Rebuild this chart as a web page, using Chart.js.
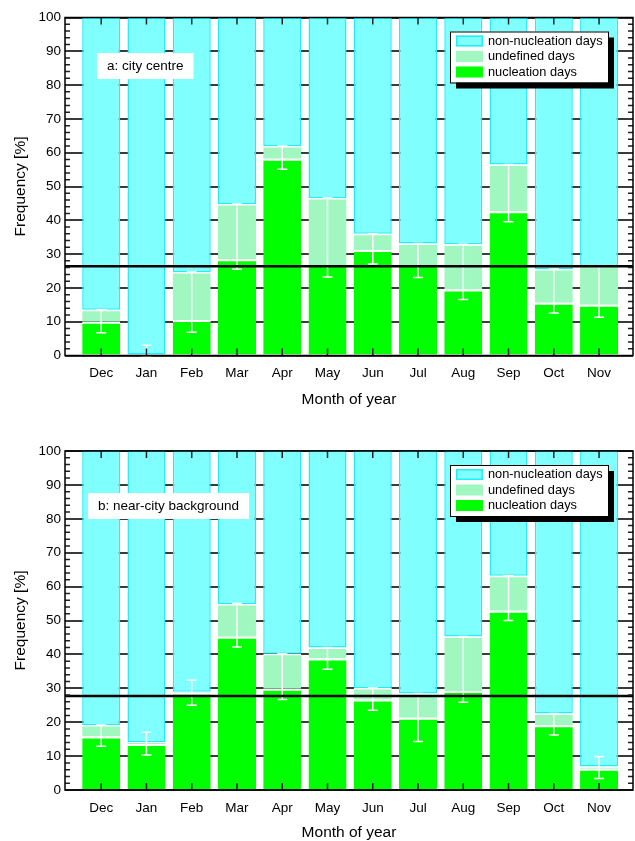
<!DOCTYPE html>
<html>
<head>
<meta charset="utf-8">
<script src="https://cdn.jsdelivr.net/npm/chart.js@4/dist/chart.umd.min.js"></script>
<style>
  html, body { margin: 0; padding: 0; background: #fff; overflow: hidden; }
  .wrap { position: absolute; left: 0; width: 635px; }
  #boxA { top: 0; height: 410px; }
  #boxB { top: 433px; height: 410px; }
</style>
</head>
<body>
<div class="wrap" id="boxA"><canvas id="chartA" width="635" height="410"></canvas></div>
<div class="wrap" id="boxB"><canvas id="chartB" width="635" height="410"></canvas></div>
<script>
const months = ['Dec', 'Jan', 'Feb', 'Mar', 'Apr', 'May', 'Jun', 'Jul', 'Aug', 'Sep', 'Oct', 'Nov'];
const yTicks = [0, 10, 20, 30, 40, 50, 60, 70, 80, 90, 100];

// a: city centre
const nucA = [10, 0, 10.5, 28.5, 58.2, 26.8, 31.2, 26.8, 19.5, 42.7, 15.6, 15.0];
const undA = [3.5, 0, 14.2, 16.3, 3.8, 19.8, 4.8, 6.3, 13.4, 13.8, 10, 11.5];
const nonA = [86.5, 100, 75.3, 55.2, 38, 53.4, 64, 66.9, 67.1, 43.5, 74.4, 73.5];
const errLowA = [6.7, 0, 6.9, 25.5, 55.1, 23.2, 27.1, 23.1, 16.6, 39.6, 12.6, 11.3];
const errHighA = [13.5, 3, 24.7, 44.8, 62, 46.6, 36, 33.1, 32.9, 56.5, 25.6, 26.5];
const meanA = 26.4;

// b: near-city background
const nucB = [15.8, 13.6, 28.7, 45.2, 29.9, 38.8, 26.7, 21.3, 29.2, 52.9, 19.1, 6.3];
const undB = [3.4, 0.5, 0.3, 9.7, 10.3, 3.2, 3.4, 7.2, 16.1, 10.3, 3.5, 0.6];
const nonB = [80.8, 85.9, 71, 45.1, 59.8, 58, 69.9, 71.5, 54.7, 36.8, 77.4, 93.1];
const errLowB = [12.9, 10.3, 25, 42.2, 26.7, 35.6, 23.5, 14.3, 25.9, 50, 16.2, 3.4];
const errHighB = [19.2, 17, 32.4, 55, 40.2, 42, 30.1, 28.5, 45.3, 63.2, 22.6, 9.9];
const meanB = 27.7;

const CYAN = '#80ffff';
const CYAN_EDGE = '#20eef8';
const LIGHT = '#a0f8c0';
const GREEN = '#00ff00';

Chart.defaults.font.family = '"Liberation Sans", Arial, sans-serif';
Chart.defaults.color = '#000';

const pts = arr => arr.map((v, i) => ({ x: i + 1, y: v }));

const overlay = {
  id: 'overlay',
  afterDatasetsDraw(chart) {
    const o = chart.options.plugins.overlay;
    const { ctx, chartArea: a, scales: { x, y } } = chart;
    ctx.save();
    // error bars
    ctx.strokeStyle = '#fff';
    ctx.lineWidth = 1.5;
    o.errLow.forEach((lo, i) => {
      const px = x.getPixelForValue(i + 1);
      const y1 = y.getPixelForValue(lo), y2 = y.getPixelForValue(o.errHigh[i]);
      ctx.beginPath();
      ctx.moveTo(px, y1); ctx.lineTo(px, y2);
      ctx.moveTo(px - 5, y1); ctx.lineTo(px + 5, y1);
      ctx.moveTo(px - 5, y2); ctx.lineTo(px + 5, y2);
      ctx.stroke();
    });
    // mean line
    const ym = y.getPixelForValue(o.mean);
    ctx.strokeStyle = '#000';
    ctx.lineWidth = 2.5;
    ctx.beginPath(); ctx.moveTo(a.left, ym); ctx.lineTo(a.right, ym); ctx.stroke();
    ctx.restore();
  },
  afterDraw(chart) {
    const o = chart.options.plugins.overlay;
    const { ctx, chartArea: a, scales: { x, y } } = chart;
    ctx.save();
    // ticks
    ctx.strokeStyle = '#222';
    ctx.lineWidth = 1.5;
    ctx.beginPath();
    for (let v = 2; v < 100; v += 2) {
      if (v % 10 === 0) continue;
      const py = y.getPixelForValue(v);
      ctx.moveTo(a.left, py); ctx.lineTo(a.left + 5, py);
      ctx.moveTo(a.right, py); ctx.lineTo(a.right - 5, py);
    }
    months.forEach((m, i) => {
      const px = x.getPixelForValue(i + 1);
      ctx.moveTo(px, a.top); ctx.lineTo(px, a.top + 7);
      ctx.moveTo(px, a.bottom); ctx.lineTo(px, a.bottom - 7);
    });
    ctx.stroke();
    // frame
    ctx.strokeStyle = '#000';
    ctx.lineWidth = 1.5;
    ctx.strokeRect(a.left, a.top, a.right - a.left, a.bottom - a.top);

    // panel label
    ctx.font = '13.5px "Liberation Sans", Arial, sans-serif';
    ctx.textBaseline = 'middle';
    const lw = ctx.measureText(o.label).width;
    const lx = a.left + o.labelDx, ly = a.top + o.labelDy;
    ctx.fillStyle = '#fff';
    ctx.fillRect(lx, ly, lw + 20, 26);
    ctx.fillStyle = '#000';
    ctx.fillText(o.label, lx + 10, ly + 13);

    // legend
    const bw = 158, bh = 51;
    const bx = a.right - 183, by = a.top + 14;
    ctx.fillStyle = '#000';
    ctx.fillRect(bx + 6, by + 6, bw, bh);
    ctx.fillStyle = '#fff';
    ctx.fillRect(bx, by, bw, bh);
    ctx.lineWidth = 1;
    ctx.strokeStyle = '#000';
    ctx.strokeRect(bx + 0.5, by + 0.5, bw, bh);
    ctx.font = '12.8px "Liberation Sans", Arial, sans-serif';
    const items = chart.data.datasets.slice().reverse();
    items.forEach((ds, k) => {
      const ry = by + 9 + k * 15.5;
      ctx.fillStyle = ds.backgroundColor;
      ctx.fillRect(bx + 6, ry - 5, 27, 11);
      if (k === 0) {
        ctx.strokeStyle = CYAN_EDGE;
        ctx.lineWidth = 1.5;
        ctx.strokeRect(bx + 6.75, ry - 4.25, 25.5, 9.5);
      }
      ctx.fillStyle = '#000';
      ctx.fillText(ds.label, bx + 38, ry + 0.5);
    });
    ctx.restore();
  }
};

function makeChart(id, nuc, und, non, errLow, errHigh, mean, label, padTop, xHeight, titlePad, labelDx, labelDy) {
  return new Chart(document.getElementById(id), {
    type: 'bar',
    data: {
      datasets: [
        {
          label: 'nucleation days',
          data: pts(nuc),
          backgroundColor: GREEN,
          borderColor: '#fff',
          borderWidth: { top: 2, left: 0, right: 0, bottom: 0 },
          borderSkipped: false,
        },
        {
          label: 'undefined days',
          data: pts(und),
          backgroundColor: LIGHT,
          borderColor: '#fff',
          borderWidth: { top: 1.5, left: 0, right: 0, bottom: 0 },
          borderSkipped: false,
        },
        {
          label: 'non-nucleation days',
          data: pts(non),
          backgroundColor: CYAN,
          borderColor: CYAN_EDGE,
          borderWidth: 1.5,
          borderSkipped: false,
        },
      ],
    },
    options: {
      responsive: false,
      animation: false,
      devicePixelRatio: 1,
      barPercentage: 0.84,
      categoryPercentage: 1,
      layout: { padding: { top: padTop, right: 2, left: 0, bottom: 0 } },
      plugins: {
        legend: { display: false },
        tooltip: { enabled: false },
        overlay: { errLow, errHigh, mean, label, labelDx, labelDy },
      },
      scales: {
        x: {
          type: 'linear',
          stacked: true,
          min: 0.2,
          max: 12.75,
          offset: false,
          grid: { display: false, offset: false },
          border: { display: false },
          afterBuildTicks: s => { s.ticks = months.map((m, i) => ({ value: i + 1 })); },
          afterFit: s => { s.height = xHeight; },
          ticks: {
            autoSkip: false,
            maxRotation: 0,
            padding: 2,
            font: { size: 13.5 },
            callback: v => months[Math.round(v) - 1],
          },
          title: {
            display: true,
            text: 'Month of year',
            font: { size: 15.5 },
            padding: { top: 0, bottom: titlePad },
          },
        },
        y: {
          stacked: true,
          min: 0,
          max: 100,
          afterBuildTicks: s => { s.ticks = yTicks.map(v => ({ value: v })); },
          afterFit: s => { s.width = 65; },
          grid: { color: '#3a3a3a', lineWidth: 2, drawTicks: false },
          border: { display: false },
          ticks: { padding: 4, font: { size: 13.5 } },
          title: {
            display: true,
            text: 'Frequency [%]',
            font: { size: 15.5 },
            padding: { top: 11, bottom: 0 },
          },
        },
      },
    },
    plugins: [overlay],
  });
}

makeChart('chartA', nucA, undA, nonA, errLowA, errHighA, meanA, 'a: city centre', 17.5, 54.5, 1, 32, 35.5);
makeChart('chartB', nucB, undB, nonB, errLowB, errHighB, meanB, 'b: near-city background', 18, 53, 1, 23, 42);
</script>
</body>
</html>
